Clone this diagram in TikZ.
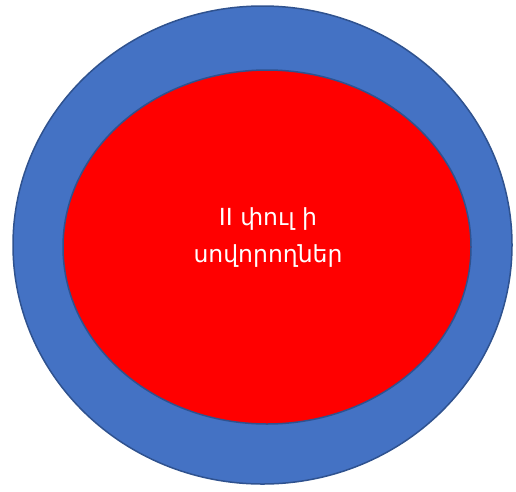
\documentclass[tikz,border=0pt]{standalone}
\usepackage{fontspec}
\usetikzlibrary{shapes.geometric}
\newfontfamily\armfont{DejaVu Sans}
\definecolor{outerblue}{HTML}{4472C4}
\definecolor{edgeblue}{HTML}{2F528F}
\begin{document}
\begin{tikzpicture}[x=1pt,y=-1pt,
  ring/.style={draw=edgeblue,line width=1.5pt}]
\useasboundingbox (0,0) rectangle (516,491);
\node[ring,fill=outerblue,ellipse,minimum width=499pt,minimum height=478pt,inner sep=0pt] (outer) at (262.5,245) {};
\node[ring,fill=red,ellipse,minimum width=408pt,minimum height=354pt,inner sep=0pt] (inner) at (267,247) {};
\node[text=white,align=center,font=\armfont\fontsize{23.5}{37}\selectfont] (label) at (268,238) {II փուլ ի\\սովորողներ};
\end{tikzpicture}
\end{document}
